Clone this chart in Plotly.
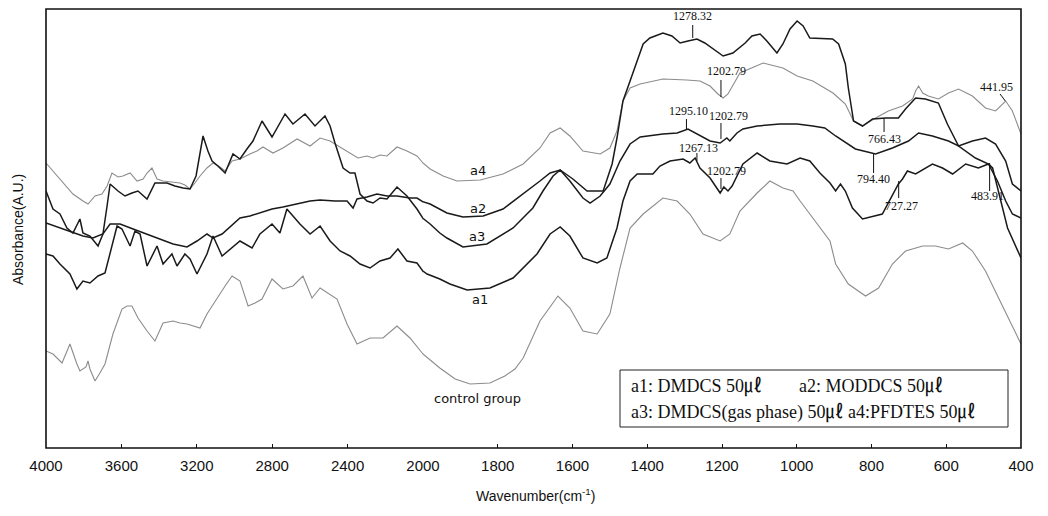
import plotly.graph_objects as go

# ---------------- data (wavenumber cm-1, absorbance a.u.) ----------------
a4_wn = [4000,3963,3926,3889,3857,3804,3777,3740,3703,3676,3650,3618,3592,3554,3517,3485,3464,3438,3411,3379,
         3326,3289,3263,3236,3210,3183,3146,3114,3077,3050,3013,2971,2918,2881,2849,2796,2743,2668,2599,2546,
         2493,2424,2387,2345,2297,2265,2228,2191,2138,2085,2032,2000,1981,1946,1909,1847,1786,1732,1687,1660,
         1633,1607,1572,1526,1500,1481,1465,1446,1419,1358,1294,1259,1232,1211,1197,1184,1152,1090,1037,999,
         957,930,903,888,870,848,824,789,755,717,690,682,674,663,648,621,594,567,530,495,468,441,423,400]
a4_ab = [285,277,270,261,254,247,244,252,254,262,275,271,272,275,267,269,275,280,269,267,
         266,265,263,259,265,272,280,285,281,277,287,289,294,297,301,295,300,309,302,310,
         307,299,295,290,292,290,293,292,301,297,292,285,279,272,267,268,274,284,300,315,
         320,312,297,294,300,317,347,360,364,369,368,367,362,354,350,354,375,385,380,372,
         367,361,355,350,344,327,322,330,337,342,349,357,362,355,352,349,355,359,352,340,337,347,337,314]

a2_wn = [4000,3926,3857,3804,3751,3698,3660,3607,3538,3464,3411,3326,3252,3199,3146,3114,3066,3008,2971,2918,
         2865,2801,2743,2679,2599,2546,2467,2403,2371,2350,2297,2244,2191,2138,2069,2032,1981,1955,1936,1893,
         1839,1786,1732,1687,1660,1633,1599,1561,1518,1494,1481,1465,1446,1427,1411,1393,1358,1334,1312,1291,
         1267,1246,1224,1197,1171,1138,1120,1098,1080,1053,1037,1018,999,983,965,930,904,888,870,862,
         848,824,797,762,728,709,682,656,621,597,567,522,487,463,441,423,400]
a2_ab = [225,220,215,212,210,214,224,224,219,214,210,204,201,207,214,210,214,224,230,232,
         235,239,241,244,247,248,247,247,240,249,251,254,252,252,250,250,244,239,235,231,
         232,239,254,267,275,278,269,257,257,284,310,347,367,387,404,410,415,412,405,407,
         409,405,399,392,395,405,412,414,407,395,404,419,427,422,410,409,409,404,384,360,
         327,322,329,330,330,339,350,349,345,324,302,290,284,267,247,234,230]

a3_wn = [4000,3963,3926,3889,3857,3820,3804,3767,3724,3698,3676,3660,3618,3581,3544,3512,3464,3422,3358,3316,
         3273,3236,3204,3167,3141,3119,3088,3050,3008,2971,2934,2902,2854,2801,2732,2690,2626,2573,2520,2493,
         2467,2424,2387,2361,2334,2297,2265,2228,2191,2138,2085,2032,1981,1955,1936,1893,1829,1759,1706,1679,
         1652,1633,1607,1572,1553,1526,1500,1473,1446,1419,1358,1320,1291,1267,1232,1205,1187,1179,1160,1144,
         1106,1045,999,957,925,896,843,789,744,701,674,637,594,567,530,495,468,441,423,400]
a3_ab = [257,239,234,220,215,229,215,212,202,214,242,264,257,252,255,257,249,265,265,262,
         260,259,272,312,297,287,282,275,294,289,299,307,327,311,334,324,334,322,332,322,
         305,280,275,275,254,247,245,250,249,261,252,239,224,215,210,201,204,220,240,257,
         272,278,267,250,245,252,264,287,304,311,314,315,319,314,307,305,310,307,315,319,
         322,324,324,322,320,312,299,294,300,307,315,312,307,302,307,310,304,287,264,257]

a1_wn = [4000,3963,3926,3873,3836,3804,3767,3724,3687,3660,3623,3597,3554,3528,3501,3464,3438,3411,3379,3353,
         3332,3305,3263,3236,3199,3146,3114,3066,3013,2971,2907,2865,2801,2759,2722,2653,2599,2546,2493,2440,
         2387,2334,2281,2228,2175,2133,2085,2032,1989,1955,1928,1882,1821,1759,1695,1660,1633,1607,1572,1534,
         1508,1481,1465,1446,1427,1385,1366,1339,1304,1286,1272,1259,1232,1205,1195,1184,1173,1144,1106,1072,
         1026,991,965,938,911,896,883,870,851,824,771,728,717,704,682,637,610,583,548,514,487,476,455,436,400]
a1_ab = [194,192,184,174,159,167,165,172,175,194,222,219,202,217,214,182,192,202,184,189,
         194,182,194,189,174,194,212,192,200,207,200,214,224,215,239,224,214,222,207,197,
         192,184,180,187,190,199,187,185,174,169,164,158,160,170,194,214,221,212,190,185,
         190,220,247,267,274,274,282,287,289,285,290,280,270,255,261,257,262,284,295,287,
         284,290,287,275,265,257,264,257,240,229,234,264,269,277,274,284,280,274,284,280,284,280,250,220,190]

ctrl_wn = [4000,3963,3915,3873,3836,3820,3788,3777,3767,3740,3714,3687,3645,3597,3570,3544,3512,3464,3422,3379,
           3326,3289,3252,3210,3183,3146,3093,3050,3013,2971,2928,2891,2854,2801,2743,2690,2637,2589,2546,2493,
           2456,2403,2350,2281,2212,2138,2069,2000,1955,1914,1874,1821,1781,1754,1732,1687,1639,1607,1572,1534,
           1500,1473,1446,1411,1358,1320,1286,1251,1205,1179,1152,1106,1072,1037,1010,991,946,911,896,862,
           816,781,744,709,663,629,594,556,530,495,460,433,400]
ctrl_ab = [97,94,85,104,84,77,81,87,79,67,75,84,114,139,142,142,130,117,107,125,
           127,125,124,122,120,134,150,162,172,167,142,145,149,169,159,162,172,150,160,154,
           149,124,104,110,110,122,110,94,80,69,64,65,72,79,90,127,152,140,117,114,
           134,180,220,234,250,247,234,214,207,214,237,255,267,260,257,247,224,207,184,164,
           152,160,184,197,202,202,199,205,197,177,150,130,104]

hi_ticks = [4000, 3600, 3200, 2800, 2400, 2000]
lo_ticks = [1800, 1600, 1400, 1200, 1000, 800, 600, 400]

# peak marks: (label, wavenumber, curve level, tick end, label level, label x-shift px)
peak_marks = [
    ("1278.32", 1278.32, 410, 423, 432, 0),
    ("1202.79", 1202.79, 351, 368, 377, 6),
    ("1295.10", 1295.10, 319, 329, 337, 2),
    ("1202.79", 1202.79, 309, 325, 332, 8),
    ("1267.13", 1267.13, 287, 295, 300, 2),
    ("1202.79", 1202.79, 259, 270, 277, 6),
    ("766.43", 766.43, 330, 316, 309, 0),
    ("794.40", 794.40, 294, 275, 269, 0),
    ("727.27", 727.27, 267, 250, 242, 3),
    ("483.91", 483.91, 285, 257, 252, -2),
]

curve_labels = [("a4", 1853, 278), ("a2", 1853, 240), ("a3", 1855, 212), ("a1", 1847, 149),
                ("control group", 1855, 50)]

# ---------------- figure ----------------
fig = go.Figure()
series = [
    (ctrl_wn, ctrl_ab, "#8c8c8c", 1.1),
    (a4_wn, a4_ab, "#8c8c8c", 1.1),
    (a1_wn, a1_ab, "#1a1a1a", 1.5),
    (a3_wn, a3_ab, "#1a1a1a", 1.5),
    (a2_wn, a2_ab, "#1a1a1a", 1.5),
]
for wn, ab, col, lw in series:
    for xa in ("x", "x2"):
        fig.add_trace(go.Scatter(x=wn, y=ab, xaxis=xa, yaxis="y", mode="lines",
                                 line=dict(color=col, width=lw), showlegend=False,
                                 hoverinfo="skip"))

# page body has an 8px margin: figure is sized/offset to compensate
W, H = 1040, 509
ML, MR, MT, MB = 38, 27, 1, 69
PW, PH = W - ML - MR, H - MT - MB   # 975 x 439 plot area
split = 377 / PW

def px_x(px):   # page pixel -> paper x
    return (px - 8 - ML) / PW

def px_y(py):   # page pixel -> paper y
    return (H - MB + 8 - py) / PH

tickfont = dict(family="Liberation Sans, Arial, sans-serif", size=15, color="#111")
common_x = dict(showgrid=False, zeroline=False, showline=False, ticks="inside", ticklen=4,
                tickcolor="#111", tickfont=tickfont, ticklabelstandoff=7)
fig.update_layout(
    width=W, height=H,
    margin=dict(l=ML, r=MR, t=MT, b=MB, pad=0),
    plot_bgcolor="white", paper_bgcolor="white",
    xaxis=dict(domain=[0, split], range=[4000, 2000], tickvals=hi_ticks,
               ticktext=[str(t) for t in hi_ticks], **common_x),
    xaxis2=dict(domain=[split, 1], range=[2000, 400], anchor="y", tickvals=lo_ticks,
                ticktext=[str(t) for t in lo_ticks], **common_x),
    yaxis=dict(range=[0, 439], showticklabels=False, showgrid=False, zeroline=False,
               showline=False, ticks=""),
)

shapes = [dict(type="rect", xref="paper", yref="paper", x0=0, x1=1, y0=0, y1=1,
               line=dict(color="#111", width=1.6))]
annotations = []
serif = "Liberation Serif, Times New Roman, serif"
for text, w, y0, y1, ly, xs in peak_marks:
    shapes.append(dict(type="line", xref="x2", yref="y", x0=w, x1=w, y0=y0, y1=y1,
                       line=dict(color="#111", width=1)))
    annotations.append(dict(x=w, y=ly, xref="x2", yref="y", text=text, showarrow=False,
                            xanchor="center", yanchor="middle", xshift=xs,
                            font=dict(family=serif, size=12, color="#111")))
# 441.95 mark (diagonal leader)
shapes.append(dict(type="line", xref="x2", yref="y", x0=456, x1=441.95, y0=354, y1=347,
                   line=dict(color="#111", width=1)))
annotations.append(dict(x=466, y=361, xref="x2", yref="y", text="441.95", showarrow=False,
                        xanchor="center", yanchor="middle",
                        font=dict(family=serif, size=12, color="#111")))

for text, w, a in curve_labels:
    annotations.append(dict(x=w, y=a, xref="x2", yref="y", text=text, showarrow=False,
                            xanchor="center", yanchor="middle",
                            font=dict(family="DejaVu Sans, sans-serif", size=13, color="#111")))

# legend box
shapes.append(dict(type="rect", xref="paper", yref="paper", x0=px_x(620), x1=px_x(1008),
                   y0=px_y(427), y1=px_y(370),
                   line=dict(color="#222", width=1), fillcolor="white", layer="above"))
legfont = dict(family="Liberation Serif, Noto Sans CJK KR, serif", size=18, color="#111")
annotations += [
    dict(x=px_x(629), y=px_y(386), xref="paper", yref="paper",
         text="a1: DMDCS 50㎕", showarrow=False, xanchor="left", yanchor="middle", font=legfont),
    dict(x=px_x(797), y=px_y(386), xref="paper", yref="paper",
         text="a2: MODDCS 50㎕", showarrow=False, xanchor="left", yanchor="middle", font=legfont),
    dict(x=px_x(629), y=px_y(412), xref="paper", yref="paper",
         text="a3: DMDCS(gas phase) 50㎕ a4:PFDTES 50㎕", showarrow=False,
         xanchor="left", yanchor="middle", font=legfont),
]

# axis titles
annotations.append(dict(x=px_x(18), y=px_y(230), xref="paper", yref="paper",
                        text="Absorbance(A.U.)", textangle=-90, showarrow=False,
                        xanchor="center", yanchor="middle",
                        font=dict(family="Liberation Sans, Arial, sans-serif", size=14, color="#111")))
annotations.append(dict(x=px_x(535), y=px_y(495), xref="paper", yref="paper",
                        text="Wavenumber(cm<sup>-1</sup>)", showarrow=False,
                        xanchor="center", yanchor="middle",
                        font=dict(family="Liberation Sans, Arial, sans-serif", size=14, color="#111")))

fig.update_layout(shapes=shapes, annotations=annotations)
fig.write_html("out.html")
